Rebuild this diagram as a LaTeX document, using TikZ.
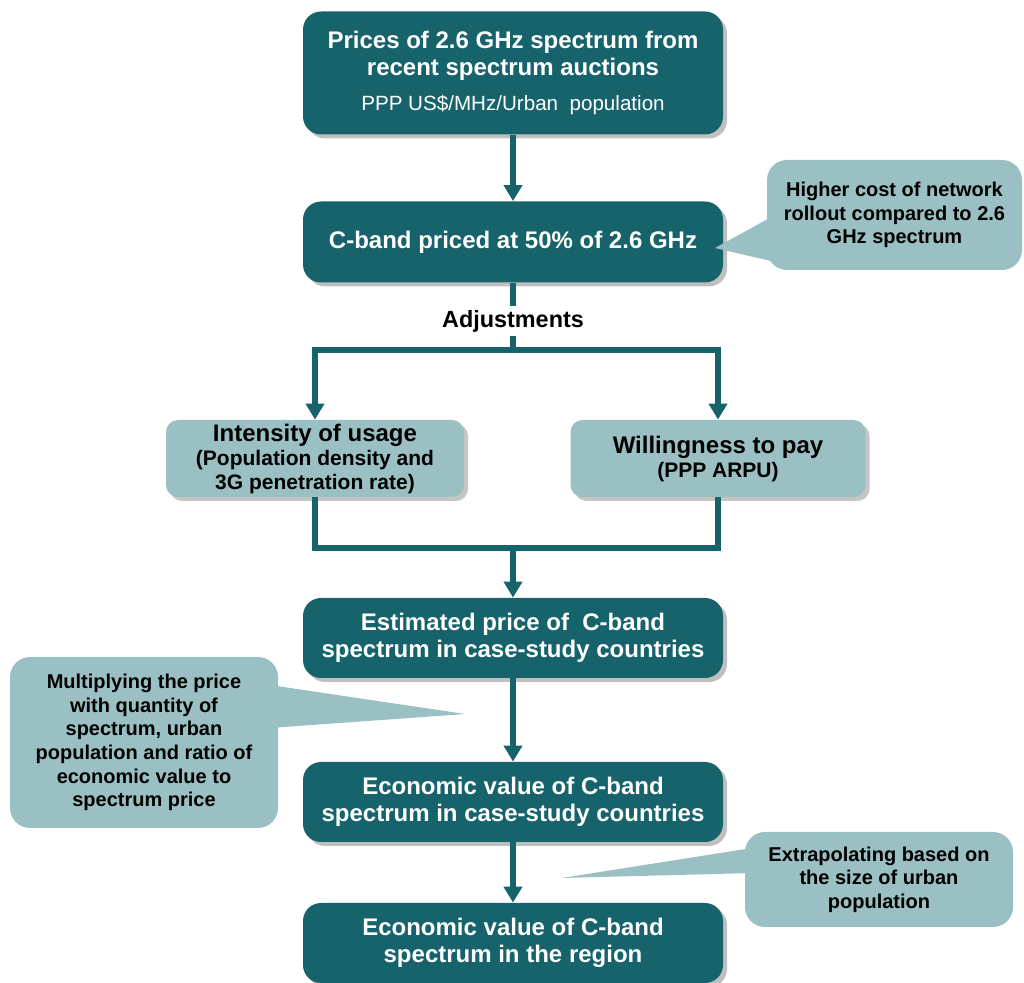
\documentclass[tikz,border=0pt]{standalone}
\usepackage{fontspec}
\setmainfont{Liberation Sans}
\usetikzlibrary{arrows.meta,shadows}
\definecolor{petrolio}{RGB}{23,99,108}
\definecolor{acqua}{RGB}{155,192,196}

\begin{document}
\begin{tikzpicture}[x=0.5pt,y=-0.5pt,>={Triangle[width=9pt,length=8pt]},
		blocco/.style={fill=petrolio, text=white, rounded corners=9pt, align=center,
			minimum width=210pt, font=\bfseries\fontsize{12}{13.5}\selectfont,
			drop shadow={shadow xshift=2pt, shadow yshift=-2pt, fill=black!50}},
		fattore/.style={fill=acqua, text=black, rounded corners=6pt, align=center,
			minimum height=38.5pt, inner ysep=1pt,
			drop shadow={shadow xshift=2pt, shadow yshift=-2pt, fill=black!45}},
		nuvola/.style={fill=acqua, text=black, rounded corners=10pt, align=center,
			font=\bfseries\fontsize{10}{11.8}\selectfont},
		flusso/.style={draw=petrolio, line width=2.8pt},
		]
		% ── Font delle caselle chiare ──
		\def\titolo{\bfseries\fontsize{12}{13}\selectfont}
		\def\sotto{\bfseries\fontsize{10.5}{12}\selectfont}
		\useasboundingbox (0,0) rectangle (1024,983);
		
		% ===================== blocchi principali =====================
		\node[blocco, minimum height=61.5pt] (prezzi) at (513,73)
			{Prices of 2.6 GHz spectrum from\\recent spectrum auctions\\[4pt]
			{\mdseries\fontsize{10.3}{12}\selectfont PPP US\$/MHz/Urban\ \ population}};
		\node[blocco, minimum height=40.5pt] (cband) at (513,242) {C-band priced at 50\% of 2.6 GHz};
		\node[font=\bfseries\fontsize{11.7}{13}\selectfont, fill=white, inner sep=2pt] (adj) at (513,321) {Adjustments};
		\node[fattore, minimum width=149pt] (uso) at (315,458.5)
			{{\titolo Intensity of usage}\\{\sotto (Population density and}\\{\sotto 3G penetration rate)}};
		\node[fattore, minimum width=147.5pt] (paga) at (718,458.5)
			{{\titolo Willingness to pay}\\{\sotto (PPP ARPU)}};
		\node[blocco, minimum height=40pt] (stima) at (513,638) {Estimated price of\ \ C-band\\spectrum in case-study countries};
		\node[blocco, minimum height=40pt] (valore) at (513,802) {Economic value of C-band\\spectrum in case-study countries};
		\node[blocco, minimum height=40pt] (regione) at (513,943) {Economic value of C-band\\spectrum in the region};
		
		% ── Diramazione e unione ──
		\coordinate (dir) at (513,350);
		\coordinate (unione) at (513,548);
		
		% ===================== collegamenti =====================
		\draw[flusso,->] (prezzi) -- (cband);
		\draw[flusso] (cband) -- (adj);
		\draw[flusso] (adj) -- (dir);
		\draw[flusso,->] (dir) -| (uso);
		\draw[flusso,->] (dir) -| (paga);
		\draw[flusso] (uso) |- (unione) -| (paga);
		\draw[flusso,->] (unione) -- (stima);
		\draw[flusso,->] (stima) -- (valore);
		\draw[flusso,->] (valore) -- (regione);
		
		% ===================== fumetti =====================
		\coordinate (puntaA) at (715,248);
		\fill[acqua] (puntaA) -- (775,215) -- (775,262) -- cycle;
		\node[nuvola, minimum width=127.5pt, minimum height=55pt] (costo) at (894.5,215)
			{Higher cost of network\\rollout compared to 2.6\\GHz spectrum};
		
		\coordinate (puntaB) at (465,714);
		\fill[acqua] (puntaB) -- (270,685) -- (270,728) -- cycle;
		\node[nuvola, minimum width=134pt, minimum height=85.5pt] (molt) at (144,742.5)
			{Multiplying the price\\with quantity of\\spectrum, urban\\population and ratio of\\economic value to\\spectrum price};
		
		\coordinate (puntaC) at (562,878);
		\fill[acqua] (puntaC) -- (752,848) -- (752,873) -- cycle;
		\node[nuvola, minimum width=134pt, minimum height=47.5pt] (estrap) at (879,879.5)
			{Extrapolating based on\\the size of urban\\population};
		
	\end{tikzpicture}
\end{document}
